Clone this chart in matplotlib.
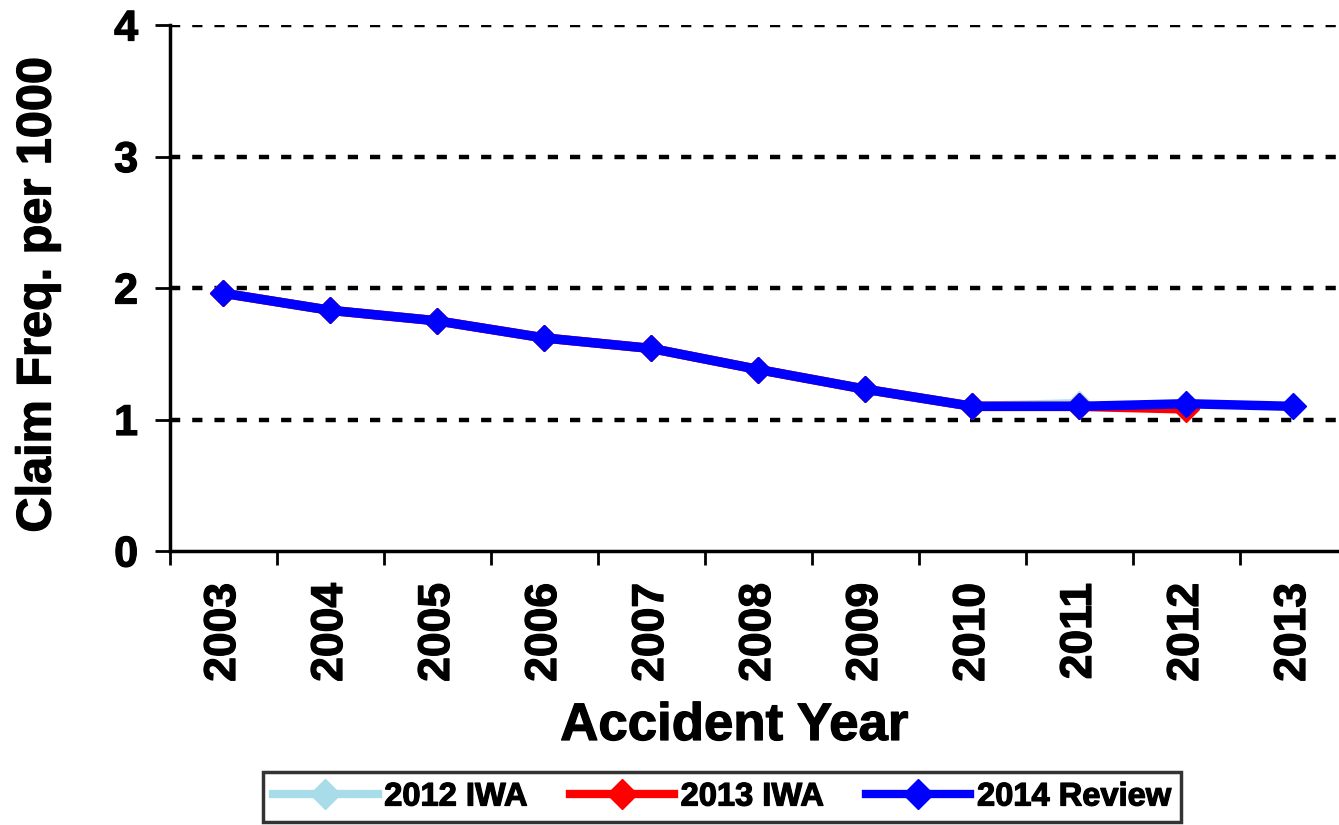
import numpy as np
import matplotlib.pyplot as plt
import matplotlib.patheffects as pe
from matplotlib.ticker import FixedLocator

# -----------------------------------------
# Data
# -----------------------------------------
years = ['2003', '2004', '2005', '2006', '2007', '2008',
         '2009', '2010', '2011', '2012', '2013']
iwa_2012 = [1.96, 1.83, 1.75, 1.62, 1.54, 1.38, 1.23, 1.10, 1.12]
iwa_2013 = [1.96, 1.83, 1.75, 1.62, 1.54, 1.38, 1.23, 1.10, 1.10, 1.08]
review_2014 = [1.96, 1.83, 1.75, 1.62, 1.54, 1.38, 1.23, 1.10, 1.10, 1.12, 1.10]
y_ticks = [0, 1, 2, 3, 4]

plt.rcParams['font.family'] = ['Liberation Sans', 'DejaVu Sans']
plt.rcParams['font.weight'] = 'bold'

# slightly heavier strokes for all the bold text
heavy = [pe.withStroke(linewidth=0.9, foreground='black')]

W, H = 1339, 825
fig = plt.figure(figsize=(W / 100, H / 100), dpi=100)
ax = fig.add_axes([170 / W, (H - 551) / H, (1347 - 170) / W, (551 - 25) / H])

x = np.arange(len(years))
line_kw = dict(lw=6.8, marker='D', markersize=13.5, solid_joinstyle='miter')
ax.plot(x[:len(iwa_2012)], iwa_2012, color='#a8dce8', markerfacecolor='#a8dce8',
        markeredgecolor='#a8dce8', label='2012 IWA', **line_kw)
ax.plot(x[:len(iwa_2013)], iwa_2013, color='#ff0000', markerfacecolor='#ff0000',
        markeredgecolor='#ff0000', label='2013 IWA', **line_kw)
ax.plot(x, review_2014, color='#0000ff', markerfacecolor='#0000ff',
        markeredgecolor='#0000ff', label='2014 Review', **line_kw)

ax.set_xlim(-0.5, len(years) - 0.5)
ax.set_ylim(0, 4)

# dotted horizontal gridlines
for v in y_ticks[1:]:
    ax.axhline(v, color='black', lw=3.2, linestyle=(0, (2.3, 2.7)), zorder=0)

for s in ['top', 'right']:
    ax.spines[s].set_visible(False)
ax.spines['left'].set_linewidth(2.5)
ax.spines['bottom'].set_linewidth(2.5)

ax.set_yticks(y_ticks)
ax.set_yticklabels([str(v) for v in y_ticks], fontsize=31, fontweight='bold')
ax.tick_params(axis='y', direction='out', length=11, width=2, pad=12)

ax.set_xticks(x)
ax.set_xticklabels(years, rotation=90, fontsize=32, fontweight='bold')
ax.tick_params(axis='x', which='major', length=0, pad=23)
ax.xaxis.set_minor_locator(FixedLocator(np.arange(-0.5, len(years), 1.0)))
ax.tick_params(axis='x', which='minor', direction='out', length=10, width=2)

for lbl in ax.get_xticklabels() + ax.get_yticklabels():
    lbl.set_path_effects(heavy)

fig.text(734 / W, 1 - 726 / H, 'Accident Year', fontsize=38, fontweight='bold',
         ha='center', va='center', path_effects=heavy)
fig.text(38 / W, 1 - 295 / H, 'Claim Freq. per 1000', fontsize=35, fontweight='bold',
         ha='center', va='center', rotation=90, path_effects=heavy)

leg = fig.legend(loc='center', bbox_to_anchor=(722 / W, 1 - 797 / H), ncol=3,
                 frameon=True, fancybox=False, handlelength=3.2,
                 handletextpad=0.2, columnspacing=1.3, borderpad=0.3,
                 borderaxespad=0, prop={'weight': 'bold', 'size': 23.5})
leg.get_frame().set_edgecolor('black')
leg.get_frame().set_linewidth(2.5)
for h in leg.legend_handles:
    h.set_linewidth(6)
    h.set_markersize(15)
for t in leg.get_texts():
    t.set_path_effects(heavy)

fig.savefig('out.png', dpi=100)
